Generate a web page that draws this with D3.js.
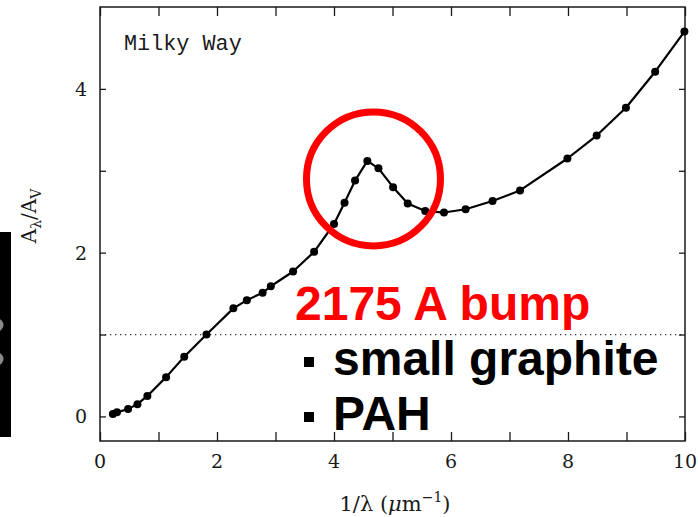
<!DOCTYPE html>
<html>
<head>
<meta charset="utf-8">
<script src="https://cdn.jsdelivr.net/npm/d3@7"></script>
<style>
  html, body { margin: 0; padding: 0; background: #fff; }
  svg { display: block; }
</style>
</head>
<body>
<svg id="chart" width="698" height="517"></svg>
<script>
// Milky Way extinction curve: A_lambda / A_V against inverse wavelength
const invLambda = [0.22, 0.29, 0.48, 0.64, 0.81, 1.13, 1.44, 1.82, 2.28, 2.51, 2.78, 2.92, 3.30, 3.66,
                   4.00, 4.18, 4.36, 4.57, 4.76, 5.01, 5.26, 5.56, 5.88, 6.25, 6.71, 7.18,
                   7.99, 8.49, 8.99, 9.49, 9.99];
const extinction = [0.03, 0.05, 0.09, 0.15, 0.25, 0.48, 0.73, 1.00, 1.32, 1.42, 1.51, 1.59, 1.77, 2.01,
                    2.35, 2.61, 2.88, 3.12, 3.03, 2.80, 2.60, 2.51, 2.49, 2.53, 2.63, 2.76,
                    3.15, 3.43, 3.77, 4.21, 4.70];

const xTickValues = [0, 1, 2, 3, 4, 5, 6, 7, 8, 9, 10];
const xTickLabels = ["0", "2", "4", "6", "8", "10"];
const yTickValues = [0, 1, 2, 3, 4];
const yTickLabels = ["0", "2", "4"];
const referenceLevel = [1];

const panelTitle = ["Milky Way"];
const bumpCentre = [4.675, 2.90];          // 2175 A feature, in data units
const noteLines = ["2175 A bump", "small graphite", "PAH"];

const svg = d3.select("#chart");
const m = { left: 100, right: 685, top: 7, bottom: 441 };

const x = d3.scaleLinear().domain([0, 10]).range([m.left, m.right]);
const y = d3.scaleLinear().domain([-0.3, 5.0]).range([m.bottom, m.top]);

const ink = "#1a1a1a";
const serif = "'DejaVu Serif', serif";

// dark strip on the left edge of the slide
const strip = svg.append("g");
strip.append("rect").attr("x", 0).attr("y", 232).attr("width", 11).attr("height", 205).attr("fill", "#000");
strip.selectAll("circle").data([325, 359]).join("circle")
  .attr("cx", -3).attr("cy", d => d).attr("r", 6.5).attr("fill", "#8a8a8a");

// dotted reference line at A_lambda / A_V = 1
svg.selectAll("line.ref").data(referenceLevel).join("line")
  .attr("class", "ref")
  .attr("x1", m.left).attr("x2", m.right)
  .attr("y1", d => y(d)).attr("y2", d => y(d))
  .attr("stroke", "#333").attr("stroke-width", 1.2)
  .attr("stroke-dasharray", "1.3,3.7");

// frame with inward ticks on all four sides
const frame = svg.append("g");
frame.append("rect")
  .attr("x", m.left).attr("y", m.top)
  .attr("width", m.right - m.left).attr("height", m.bottom - m.top)
  .attr("fill", "none").attr("stroke", ink).attr("stroke-width", 1.5);

const xt = 9, yt = 6;
const axisBottom = d3.axisBottom(x).tickValues(xTickValues).tickSizeInner(-xt).tickSizeOuter(0).tickFormat("");
const axisTop = d3.axisTop(x).tickValues(xTickValues).tickSizeInner(-xt).tickSizeOuter(0).tickFormat("");
const axisLeft = d3.axisLeft(y).tickValues(yTickValues).tickSizeInner(-yt).tickSizeOuter(0).tickFormat("");
const axisRight = d3.axisRight(y).tickValues(yTickValues).tickSizeInner(-yt).tickSizeOuter(0).tickFormat("");

function styleAxis(g) {
  g.select(".domain").remove();
  g.selectAll(".tick line").attr("stroke", ink).attr("stroke-width", 1.3);
}
frame.append("g").attr("transform", `translate(0,${m.bottom})`).call(axisBottom).call(styleAxis);
frame.append("g").attr("transform", `translate(0,${m.top})`).call(axisTop).call(styleAxis);
frame.append("g").attr("transform", `translate(${m.left},0)`).call(axisLeft).call(styleAxis);
frame.append("g").attr("transform", `translate(${m.right},0)`).call(axisRight).call(styleAxis);

// tick labels
svg.append("g").selectAll("text").data(xTickLabels).join("text")
  .attr("x", d => x(+d)).attr("y", 468)
  .attr("text-anchor", "middle")
  .attr("font-family", serif).attr("font-size", 19).attr("fill", ink)
  .text(d => d);

svg.append("g").selectAll("text").data(yTickLabels).join("text")
  .attr("x", 87).attr("y", d => y(+d) + 7)
  .attr("text-anchor", "end")
  .attr("font-family", serif).attr("font-size", 19).attr("fill", ink)
  .text(d => d);

// axis titles
const xTitle = svg.append("text")
  .attr("x", 395).attr("y", 511)
  .attr("text-anchor", "middle")
  .attr("font-family", serif).attr("font-size", 21).attr("fill", ink);
xTitle.append("tspan").text("1/λ (");
xTitle.append("tspan").attr("font-style", "italic").text("μ");
xTitle.append("tspan").text("m");
xTitle.append("tspan").attr("font-size", 14).attr("dy", -9).text("−1");
xTitle.append("tspan").attr("dy", 9).text(")");

const yTitle = svg.append("text")
  .attr("transform", "translate(36,216) rotate(-90)")
  .attr("text-anchor", "middle")
  .attr("font-family", serif).attr("font-size", 20).attr("fill", ink);
yTitle.append("tspan").text("A");
yTitle.append("tspan").attr("font-size", 14).attr("dy", 5).text("λ");
yTitle.append("tspan").attr("dy", -5).text("/A");
yTitle.append("tspan").attr("font-size", 14).attr("dy", 5).text("V");

// panel title
svg.selectAll("text.title").data(panelTitle).join("text")
  .attr("class", "title")
  .attr("x", 124).attr("y", 50)
  .attr("font-family", "'Liberation Mono', monospace").attr("font-size", 21.8).attr("fill", ink)
  .text(d => d);

// extinction curve and its sample points
const pts = invLambda.map((v, i) => [v, extinction[i]]);
svg.append("path")
  .datum(pts)
  .attr("fill", "none").attr("stroke", "#000").attr("stroke-width", 2.2)
  .attr("stroke-linejoin", "round")
  .attr("d", d3.line().x(d => x(d[0])).y(d => y(d[1])));

svg.append("g").selectAll("circle").data(pts).join("circle")
  .attr("cx", d => x(d[0])).attr("cy", d => y(d[1]))
  .attr("r", 4).attr("fill", "#000");

// ring around the 2175 A bump
svg.append("circle")
  .attr("cx", x(bumpCentre[0])).attr("cy", y(bumpCentre[1]))
  .attr("r", 67).attr("fill", "none")
  .attr("stroke", "#ff0000").attr("stroke-width", 7);

// annotation text
const sans = "'Liberation Sans', Arial, sans-serif";
svg.append("text")
  .attr("x", 295).attr("y", 320)
  .attr("font-family", sans).attr("font-weight", "bold").attr("font-size", 48)
  .attr("fill", "#ff0000")
  .text(noteLines[0]);

const bulletRows = [{ t: noteLines[1], base: 375 }, { t: noteLines[2], base: 430 }];
const notes = svg.append("g").selectAll("g").data(bulletRows).join("g");
notes.append("rect")
  .attr("x", 304).attr("y", d => d.base - 18).attr("width", 10).attr("height", 10)
  .attr("fill", "#000");
notes.append("text")
  .attr("x", 333).attr("y", d => d.base)
  .attr("font-family", sans).attr("font-weight", "bold").attr("font-size", 48)
  .attr("fill", "#000")
  .text(d => d.t);
</script>
</body>
</html>
